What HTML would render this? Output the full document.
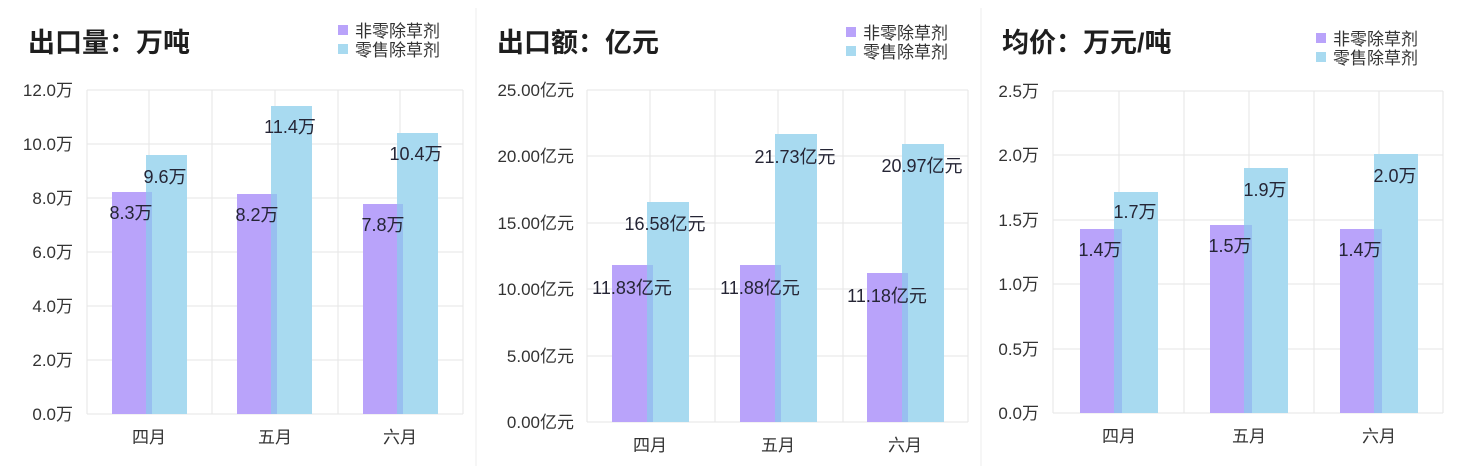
<!DOCTYPE html>
<html><head><meta charset="utf-8"><style>
html,body{margin:0;padding:0;background:#fff;}
svg{display:block;font-family:"Liberation Sans","Noto Sans CJK SC",sans-serif;}
.t{font-size:27px;font-weight:600;fill:#1e1e1e;}
.lg{font-size:17px;fill:#333;}
.y{font-size:17px;fill:#333;text-anchor:end;}
.x{font-size:17px;fill:#333;text-anchor:middle;}
.v{font-size:18px;fill:#252535;text-anchor:middle;}
.g{stroke:#e6e6e6;stroke-width:1;}
</style></head><body>
<svg width="1457" height="476" viewBox="0 0 1457 476">
<rect width="1457" height="476" fill="#fff"/>
<line x1="476" y1="8" x2="476" y2="466" stroke="#eee"/>
<line x1="981" y1="8" x2="981" y2="466" stroke="#eee"/>

<!-- Panel 1 -->
<text class="t" x="28" y="52">出口量：万吨</text>
<rect x="338" y="25" width="10" height="10" fill="#b9a3fa"/><text class="lg" x="355" y="37">非零除草剂</text>
<rect x="338" y="44" width="10" height="10" fill="#a8daf0"/><text class="lg" x="355" y="56">零售除草剂</text>
<g class="g">
<line x1="87" y1="90" x2="463" y2="90"/><line x1="87" y1="144" x2="463" y2="144"/><line x1="87" y1="198" x2="463" y2="198"/><line x1="87" y1="252" x2="463" y2="252"/><line x1="87" y1="306" x2="463" y2="306"/><line x1="87" y1="360" x2="463" y2="360"/><line x1="87" y1="414" x2="463" y2="414"/>
<line x1="87" y1="90" x2="87" y2="414"/><line x1="149" y1="90" x2="149" y2="414"/><line x1="212" y1="90" x2="212" y2="414"/><line x1="275" y1="90" x2="275" y2="414"/><line x1="338" y1="90" x2="338" y2="414"/><line x1="400" y1="90" x2="400" y2="414"/><line x1="463" y1="90" x2="463" y2="414"/>
</g>
<g>
<text class="y" x="73" y="96">12.0万</text><text class="y" x="73" y="150">10.0万</text><text class="y" x="73" y="204">8.0万</text><text class="y" x="73" y="258">6.0万</text><text class="y" x="73" y="312">4.0万</text><text class="y" x="73" y="366">2.0万</text><text class="y" x="73" y="420">0.0万</text>
</g>
<rect x="112" y="192" width="40" height="222" fill="#b9a3fa"/><rect x="146" y="155" width="41" height="259" fill="#a8daf0"/><rect x="146" y="192" width="6" height="222" fill="#98bff0"/>
<rect x="237" y="194" width="40" height="220" fill="#b9a3fa"/><rect x="271" y="106" width="41" height="308" fill="#a8daf0"/><rect x="271" y="194" width="6" height="220" fill="#98bff0"/>
<rect x="363" y="204" width="40" height="210" fill="#b9a3fa"/><rect x="397" y="133" width="41" height="281" fill="#a8daf0"/><rect x="397" y="204" width="6" height="210" fill="#98bff0"/>
<text class="v" x="131" y="219">8.3万</text><text class="v" x="165" y="183">9.6万</text>
<text class="v" x="257" y="221">8.2万</text><text class="v" x="290" y="133">11.4万</text>
<text class="v" x="383" y="231">7.8万</text><text class="v" x="416" y="160">10.4万</text>
<text class="x" x="149" y="443">四月</text><text class="x" x="275" y="443">五月</text><text class="x" x="400" y="443">六月</text>

<!-- Panel 2 -->
<text class="t" x="497" y="52">出口额：亿元</text>
<rect x="846" y="27" width="10" height="10" fill="#b9a3fa"/><text class="lg" x="863" y="39">非零除草剂</text>
<rect x="846" y="46" width="10" height="10" fill="#a8daf0"/><text class="lg" x="863" y="58">零售除草剂</text>
<g class="g">
<line x1="587" y1="90" x2="968" y2="90"/><line x1="587" y1="156" x2="968" y2="156"/><line x1="587" y1="223" x2="968" y2="223"/><line x1="587" y1="289" x2="968" y2="289"/><line x1="587" y1="356" x2="968" y2="356"/><line x1="587" y1="422" x2="968" y2="422"/>
<line x1="587" y1="90" x2="587" y2="422"/><line x1="650" y1="90" x2="650" y2="422"/><line x1="715" y1="90" x2="715" y2="422"/><line x1="778" y1="90" x2="778" y2="422"/><line x1="843" y1="90" x2="843" y2="422"/><line x1="905" y1="90" x2="905" y2="422"/><line x1="968" y1="90" x2="968" y2="422"/>
</g>
<text class="y" x="574" y="96">25.00亿元</text><text class="y" x="574" y="162">20.00亿元</text><text class="y" x="574" y="229">15.00亿元</text><text class="y" x="574" y="295">10.00亿元</text><text class="y" x="574" y="362">5.00亿元</text><text class="y" x="574" y="428">0.00亿元</text>
<rect x="612" y="265" width="41" height="157" fill="#b9a3fa"/><rect x="647" y="202" width="42" height="220" fill="#a8daf0"/><rect x="647" y="265" width="6" height="157" fill="#98bff0"/>
<rect x="740" y="265" width="41" height="157" fill="#b9a3fa"/><rect x="775" y="134" width="42" height="288" fill="#a8daf0"/><rect x="775" y="265" width="6" height="157" fill="#98bff0"/>
<rect x="867" y="273" width="41" height="149" fill="#b9a3fa"/><rect x="902" y="144" width="42" height="278" fill="#a8daf0"/><rect x="902" y="273" width="6" height="149" fill="#98bff0"/>
<text class="v" x="632" y="294">11.83亿元</text><text class="v" x="665" y="230">16.58亿元</text>
<text class="v" x="760" y="294">11.88亿元</text><text class="v" x="795" y="163">21.73亿元</text>
<text class="v" x="887" y="302">11.18亿元</text><text class="v" x="922" y="172">20.97亿元</text>
<text class="x" x="650" y="451">四月</text><text class="x" x="778" y="451">五月</text><text class="x" x="905" y="451">六月</text>

<!-- Panel 3 -->
<text class="t" x="1002" y="52">均价：万元/吨</text>
<rect x="1316" y="33" width="10" height="10" fill="#b9a3fa"/><text class="lg" x="1333" y="45">非零除草剂</text>
<rect x="1316" y="52" width="10" height="10" fill="#a8daf0"/><text class="lg" x="1333" y="64">零售除草剂</text>
<g class="g">
<line x1="1053" y1="91" x2="1443" y2="91"/><line x1="1053" y1="155" x2="1443" y2="155"/><line x1="1053" y1="220" x2="1443" y2="220"/><line x1="1053" y1="284" x2="1443" y2="284"/><line x1="1053" y1="349" x2="1443" y2="349"/><line x1="1053" y1="413" x2="1443" y2="413"/>
<line x1="1053" y1="91" x2="1053" y2="413"/><line x1="1119" y1="91" x2="1119" y2="413"/><line x1="1184" y1="91" x2="1184" y2="413"/><line x1="1249" y1="91" x2="1249" y2="413"/><line x1="1314" y1="91" x2="1314" y2="413"/><line x1="1379" y1="91" x2="1379" y2="413"/><line x1="1443" y1="91" x2="1443" y2="413"/>
</g>
<text class="y" x="1039" y="97">2.5万</text><text class="y" x="1039" y="161">2.0万</text><text class="y" x="1039" y="226">1.5万</text><text class="y" x="1039" y="290">1.0万</text><text class="y" x="1039" y="355">0.5万</text><text class="y" x="1039" y="419">0.0万</text>
<rect x="1080" y="229" width="42" height="184" fill="#b9a3fa"/><rect x="1114" y="192" width="44" height="221" fill="#a8daf0"/><rect x="1114" y="229" width="8" height="184" fill="#98bff0"/>
<rect x="1210" y="225" width="42" height="188" fill="#b9a3fa"/><rect x="1244" y="168" width="44" height="245" fill="#a8daf0"/><rect x="1244" y="225" width="8" height="188" fill="#98bff0"/>
<rect x="1340" y="229" width="42" height="184" fill="#b9a3fa"/><rect x="1374" y="154" width="44" height="259" fill="#a8daf0"/><rect x="1374" y="229" width="8" height="184" fill="#98bff0"/>
<text class="v" x="1100" y="256">1.4万</text><text class="v" x="1135" y="218">1.7万</text>
<text class="v" x="1230" y="252">1.5万</text><text class="v" x="1265" y="196">1.9万</text>
<text class="v" x="1360" y="256">1.4万</text><text class="v" x="1395" y="182">2.0万</text>
<text class="x" x="1119" y="442">四月</text><text class="x" x="1249" y="442">五月</text><text class="x" x="1379" y="442">六月</text>
</svg>
</body></html>
